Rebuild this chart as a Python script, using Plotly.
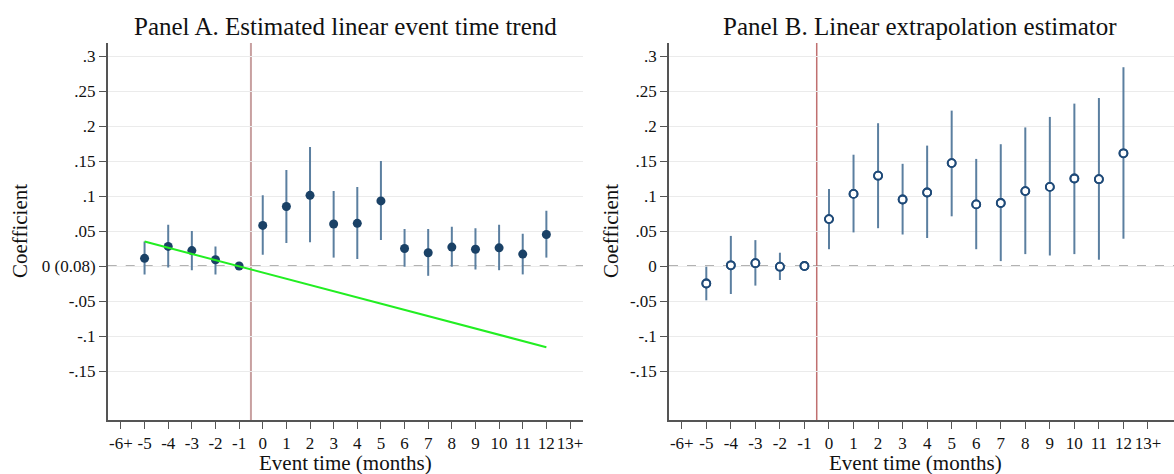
import plotly.graph_objects as go

# Event time (months), -6+ and 13+ are binned end points with no estimate shown
event_time = [-5, -4, -3, -2, -1, 0, 1, 2, 3, 4, 5, 6, 7, 8, 9, 10, 11, 12]
tick_vals = list(range(-6, 14))
tick_text = ["-6+"] + [str(t) for t in range(-5, 13)] + ["13+"]

# Panel A: estimated coefficients with 95% CI
coef_a = [0.011, 0.028, 0.022, 0.009, 0.0, 0.058, 0.085, 0.101, 0.060, 0.061, 0.093,
          0.025, 0.019, 0.027, 0.024, 0.026, 0.017, 0.045]
lo_a = [-0.012, -0.002, -0.006, -0.012, 0.0, 0.016, 0.033, 0.034, 0.012, 0.010, 0.037,
        -0.001, -0.014, -0.001, -0.005, -0.006, -0.012, 0.012]
hi_a = [0.035, 0.059, 0.050, 0.028, 0.0, 0.101, 0.137, 0.170, 0.107, 0.113, 0.150,
        0.053, 0.053, 0.056, 0.054, 0.059, 0.046, 0.079]

# Panel A: fitted linear pre-trend (end points)
trend_x = [-5, 12]
trend_y = [0.035, -0.116]

# Panel B: linear extrapolation estimator with 95% CI
coef_b = [-0.025, 0.001, 0.004, -0.001, 0.0, 0.067, 0.103, 0.129, 0.095, 0.105, 0.147,
          0.088, 0.090, 0.107, 0.113, 0.125, 0.124, 0.161]
lo_b = [-0.049, -0.040, -0.028, -0.020, 0.0, 0.024, 0.048, 0.054, 0.045, 0.040, 0.071,
        0.024, 0.007, 0.017, 0.015, 0.017, 0.009, 0.039]
hi_b = [-0.001, 0.043, 0.037, 0.019, 0.0, 0.110, 0.159, 0.204, 0.146, 0.172, 0.222,
        0.153, 0.174, 0.198, 0.213, 0.232, 0.240, 0.284]

y_ticks = [-0.15, -0.1, -0.05, 0, 0.05, 0.1, 0.15, 0.2, 0.25, 0.3]
y_text_a = ["-.15", "-.1", "-.05", "0 (0.08)", ".05", ".1", ".15", ".2", ".25", ".3"]
y_text_b = ["-.15", "-.1", "-.05", "0", ".05", ".1", ".15", ".2", ".25", ".3"]

W, H = 1174, 474
FONT = "Liberation Serif"
ci_color = "#5b7fa0"
dot_color = "#1a4166"

fig = go.Figure()

# Panel A
fig.add_trace(go.Scatter(
    x=event_time, y=coef_a, mode="markers", xaxis="x", yaxis="y",
    marker=dict(size=9, color=dot_color),
    error_y=dict(type="data", symmetric=False,
                 array=[h - c for h, c in zip(hi_a, coef_a)],
                 arrayminus=[c - l for c, l in zip(coef_a, lo_a)],
                 width=0, thickness=2, color=ci_color),
    showlegend=False))
fig.add_trace(go.Scatter(
    x=trend_x, y=trend_y, mode="lines", xaxis="x", yaxis="y",
    line=dict(color="#22ee22", width=2), showlegend=False))

# Panel B: hollow circles over the CI spikes
fig.add_trace(go.Scatter(
    x=event_time, y=coef_b, mode="markers", xaxis="x2", yaxis="y2",
    marker=dict(size=8, color="white", symbol="circle",
                line=dict(color="#1f4a78", width=1.8)),
    error_y=dict(type="data", symmetric=False,
                 array=[h - c for h, c in zip(hi_b, coef_b)],
                 arrayminus=[c - l for c, l in zip(coef_b, lo_b)],
                 width=0, thickness=2, color=ci_color),
    showlegend=False))
fig.add_trace(go.Scatter(
    x=event_time, y=coef_b, mode="markers", xaxis="x2", yaxis="y2",
    marker=dict(size=8, color="rgba(255,255,255,0)", symbol="circle",
                line=dict(color="#1f4a78", width=1.8)),
    showlegend=False))

y_range = [-0.22, 0.3186]
dom_y = [1 - 420 / H, 1 - 43 / H]

axis_common = dict(
    showline=True, linecolor="#555555", linewidth=1.5, mirror=False,
    ticks="outside", ticklen=7, tickwidth=1.3, tickcolor="#555555",
    tickfont=dict(family=FONT, size=17, color="#111111"),
    zeroline=False,
)

fig.update_layout(
    width=W, height=H,
    margin=dict(l=0, r=0, t=0, b=0),
    paper_bgcolor="white", plot_bgcolor="white",
    font=dict(family=FONT, color="#111111"),
    xaxis=dict(domain=[107.7 / W, 583 / W], range=[-6.56, 13.55],
               tickvals=tick_vals, ticktext=tick_text, tickangle=0, showgrid=False,
               anchor="y", **axis_common),
    yaxis=dict(domain=dom_y, range=y_range, tickvals=y_ticks, ticktext=y_text_a,
               showgrid=True, gridcolor="#ebebeb", gridwidth=1.3,
               anchor="x", **axis_common),
    xaxis2=dict(domain=[669 / W, 1.0], range=[-6.52, 14.06],
                tickvals=tick_vals, ticktext=tick_text, tickangle=0, showgrid=False,
                anchor="y2", **axis_common),
    yaxis2=dict(domain=dom_y, range=y_range, tickvals=y_ticks, ticktext=y_text_b,
                showgrid=True, gridcolor="#ebebeb", gridwidth=1.3,
                anchor="x2", **axis_common),
)

# Dashed zero lines and event lines
for xr, yr, red, rw in [("x", "y", "#c8a0a0", 2), ("x2", "y2", "#c07070", 1.5)]:
    fig.add_shape(type="line", xref=xr + " domain", yref=yr, x0=0, x1=1, y0=0, y1=0,
                  line=dict(color="#999999", width=1.5, dash="dash"), layer="below")
    fig.add_shape(type="line", xref=xr, yref=yr + " domain", x0=-0.5, x1=-0.5, y0=0, y1=1,
                  line=dict(color=red, width=rw), layer="below")

# Titles
annots = [
    dict(text="Panel A. Estimated linear event time trend", x=345 / W, y=1 - 27 / H, size=25, angle=0),
    dict(text="Panel B. Linear extrapolation estimator", x=920 / W, y=1 - 27 / H, size=25, angle=0),
    dict(text="Event time (months)", x=345 / W, y=1 - 463 / H, size=21, angle=0),
    dict(text="Event time (months)", x=915 / W, y=1 - 463 / H, size=21, angle=0),
    dict(text="Coefficient", x=20 / W, y=1 - 231 / H, size=21, angle=-90),
    dict(text="Coefficient", x=611 / W, y=1 - 231 / H, size=21, angle=-90),
]
for a in annots:
    fig.add_annotation(text=a["text"], x=a["x"], y=a["y"], xref="paper", yref="paper",
                       showarrow=False, textangle=a["angle"], xanchor="center", yanchor="middle",
                       font=dict(family=FONT, size=a["size"], color="#111111"))

# remove the default page margin so the figure sits at the window corner
fig.write_html("out.html", config={"displayModeBar": False},
               post_script="document.body.style.margin='0';")
